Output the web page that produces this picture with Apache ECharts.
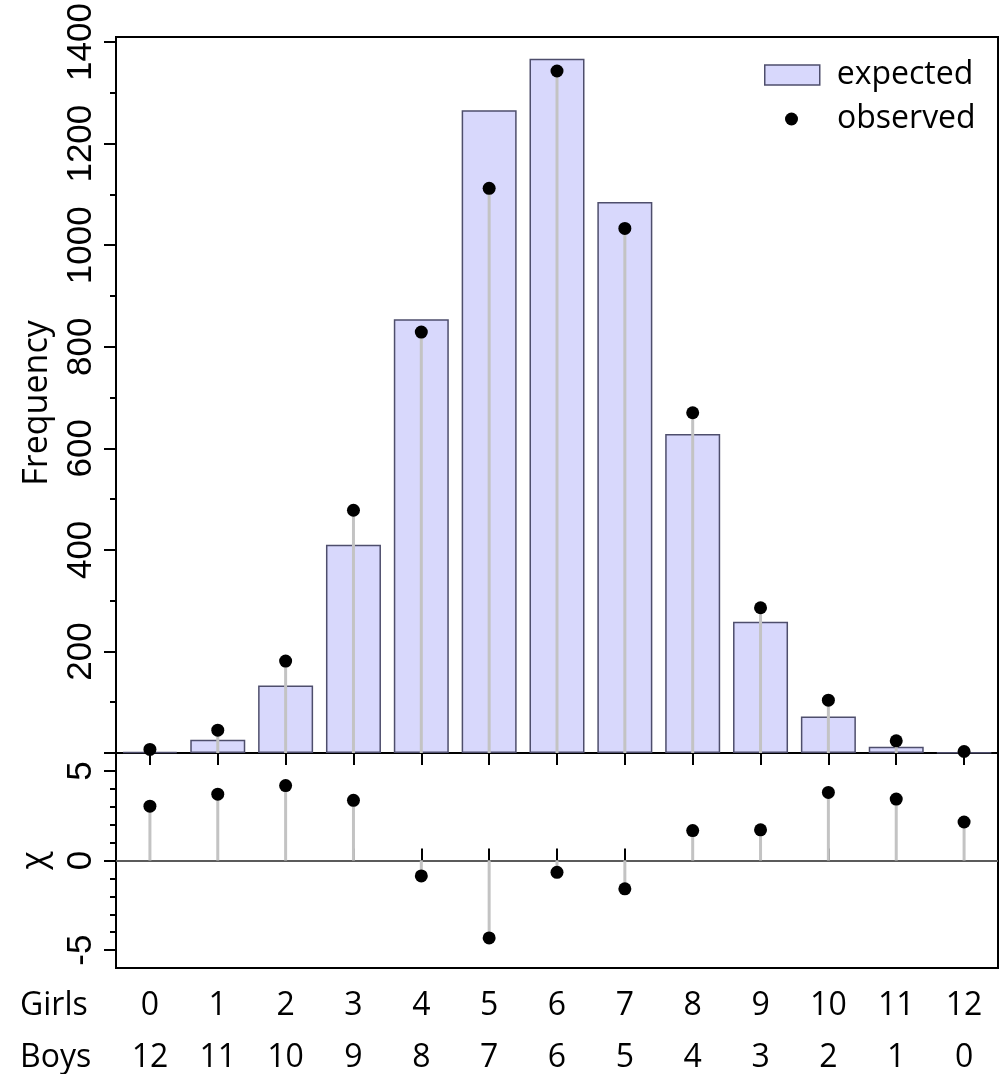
<!DOCTYPE html>
<html>
<head>
<meta charset="utf-8">
<script src="https://cdn.jsdelivr.net/npm/echarts@6/dist/echarts.min.js"></script>
<style>
  html, body { margin: 0; padding: 0; background: #fff; }
  #chart { width: 1000px; height: 1074px; }
</style>
</head>
<body>
<div id="chart"></div>
<script>
// ---- data ----
const girls = ['0','1','2','3','4','5','6','7','8','9','10','11','12'];
const boys  = ['12','11','10','9','8','7','6','5','4','3','2','1','0'];
const expected = [2.35, 26.08, 132.84, 410.01, 854.25, 1265.63, 1367.28, 1085.21, 628.06, 258.48, 71.80, 12.09, 0.93];
const observed = [7, 45, 181, 478, 829, 1112, 1343, 1033, 670, 286, 104, 24, 3];
const chi = [3.03, 3.70, 4.18, 3.36, -0.86, -4.32, -0.66, -1.58, 1.67, 1.71, 3.80, 3.43, 2.15];
const freqMajorTicks = [0, 200, 400, 600, 800, 1000, 1200, 1400];
const freqLabels = [200, 400, 600, 800, 1000, 1200, 1400];
const freqMinorTicks = [100, 300, 500, 700, 900, 1100, 1300];
const chiMajorTicks = [-5, 0, 5];
const chiMinorTicks = [-4, -3, -2, -1, 1, 2, 3, 4];

const LABEL_FONT = 'Open Sans';
const TICK_FONT = 'Liberation Sans';

const chart = echarts.init(document.getElementById('chart'), null, { renderer: 'canvas' });

function stem(params, api) {
  const x = api.value(0), y = api.value(1);
  const p0 = api.coord([x, 0]);
  const p1 = api.coord([x, y]);
  return {
    type: 'line',
    shape: { x1: p0[0], y1: p0[1], x2: p1[0], y2: p1[1] },
    style: { stroke: '#c3c3c3', lineWidth: 3 }
  };
}

const tickStyle = { color: '#000', width: 2 };
const axisLineStyle = { show: true, lineStyle: { color: '#000', width: 2 } };
const plainNum = v => String(v);

const option = {
  animation: false,
  backgroundColor: '#fff',
  grid: [
    { left: 116, top: 37, width: 882, height: 716, show: true, borderColor: '#000', borderWidth: 2, backgroundColor: 'transparent' },
    { left: 116, top: 753, width: 882, height: 216, show: true, borderColor: '#000', borderWidth: 2, backgroundColor: 'transparent' }
  ],
  legend: [
    {
      data: [{ name: 'expected', icon: 'rect' }], left: 764, top: 59, padding: 0,
      itemWidth: 55, itemHeight: 20,
      itemStyle: { borderColor: '#4e4e6c', borderWidth: 1.5 },
      textStyle: { fontSize: 32, fontFamily: LABEL_FONT, color: '#000', padding: [0, 0, 0, 12] }
    },
    {
      data: ['observed'], left: 785, top: 103, padding: 0,
      itemWidth: 13, itemHeight: 13, icon: 'circle',
      textStyle: { fontSize: 32, fontFamily: LABEL_FONT, color: '#000', padding: [0, 0, 0, 34] }
    }
  ],
  xAxis: [
    {
      gridIndex: 0, type: 'category', data: girls, boundaryGap: true,
      axisLine: axisLineStyle,
      axisTick: { show: true, alignWithLabel: true, length: 12, lineStyle: tickStyle },
      axisLabel: { show: false }, splitLine: { show: false }
    },
    {
      gridIndex: 1, type: 'category', data: girls, boundaryGap: true, position: 'bottom',
      axisLine: axisLineStyle,
      axisTick: { show: true, inside: true, alignWithLabel: true, length: 12, lineStyle: tickStyle },
      axisLabel: { margin: 22, fontSize: 32, fontFamily: LABEL_FONT, color: '#000' },
      splitLine: { show: false }
    },
    {
      gridIndex: 1, type: 'category', data: boys, boundaryGap: true, position: 'bottom', offset: 52,
      axisLine: { show: false }, axisTick: { show: false },
      axisLabel: { margin: 22, fontSize: 32, fontFamily: LABEL_FONT, color: '#000' },
      splitLine: { show: false }
    }
  ],
  yAxis: [
    {
      gridIndex: 0, type: 'value', position: 'left', min: 0, max: 1410,
      axisLine: axisLineStyle,
      axisTick: { show: true, length: 12, customValues: freqMajorTicks, lineStyle: tickStyle },
      axisLabel: { customValues: freqLabels, formatter: plainNum, rotate: 90, margin: 17, fontSize: 35, fontFamily: TICK_FONT, color: '#000' },
      splitLine: { show: false },
      name: 'Frequency', nameLocation: 'middle', nameRotate: 90, nameGap: 62,
      nameTextStyle: { fontSize: 34, fontFamily: LABEL_FONT, color: '#000', padding: [0, 16, 0, 0] }
    },
    {
      gridIndex: 0, type: 'value', position: 'left', min: 0, max: 1410,
      axisLine: { show: false },
      axisTick: { show: true, length: 6, customValues: freqMinorTicks, lineStyle: tickStyle },
      axisLabel: { show: false }, splitLine: { show: false }
    },
    {
      gridIndex: 1, type: 'value', position: 'left', min: -6, max: 6,
      axisLine: axisLineStyle,
      axisTick: { show: true, length: 12, customValues: chiMajorTicks, lineStyle: tickStyle },
      axisLabel: { customValues: chiMajorTicks, formatter: plainNum, rotate: 90, margin: 17, fontSize: 35, fontFamily: TICK_FONT, color: '#000' },
      splitLine: { show: false },
      name: 'χ', nameLocation: 'middle', nameRotate: 90, nameGap: 64,
      nameTextStyle: { fontSize: 34, fontFamily: LABEL_FONT, color: '#000' }
    },
    {
      gridIndex: 1, type: 'value', position: 'left', min: -6, max: 6,
      axisLine: { show: false },
      axisTick: { show: true, length: 6, customValues: chiMinorTicks, lineStyle: tickStyle },
      axisLabel: { show: false }, splitLine: { show: false }
    }
  ],
  series: [
    {
      name: 'expected', type: 'bar', xAxisIndex: 0, yAxisIndex: 0,
      data: expected, barWidth: 55,
      itemStyle: { color: '#d8d8fc', borderColor: '#4e4e6c', borderWidth: 1.5 },
      z: 2
    },
    {
      name: 'stemsTop', type: 'custom', xAxisIndex: 0, yAxisIndex: 0,
      data: observed.map((v, i) => [i, v]), renderItem: stem, z: 3, silent: true
    },
    {
      name: 'observed', type: 'scatter', xAxisIndex: 0, yAxisIndex: 0,
      data: observed, symbol: 'circle', symbolSize: 13,
      itemStyle: { color: '#000', opacity: 1 }, z: 4
    },
    {
      name: 'stemsBottom', type: 'custom', xAxisIndex: 1, yAxisIndex: 2,
      data: chi.map((v, i) => [i, v]), renderItem: stem, z: 3, silent: true
    },
    {
      name: 'chi', type: 'scatter', xAxisIndex: 1, yAxisIndex: 2,
      data: chi, symbol: 'circle', symbolSize: 13,
      itemStyle: { color: '#000', opacity: 1 }, z: 4,
      markLine: {
        silent: true, symbol: ['none', 'none'], label: { show: false },
        lineStyle: { color: '#7a7a7a', width: 1.5, type: 'solid' },
        data: [{ yAxis: 0 }], z: 2
      }
    }
  ],
  graphic: [
    { type: 'text', left: 20, top: 990, style: { text: 'Girls', fontSize: 32, fontFamily: LABEL_FONT, fill: '#000' } },
    { type: 'text', left: 20, top: 1042, style: { text: 'Boys', fontSize: 32, fontFamily: LABEL_FONT, fill: '#000' } }
  ]
};

chart.setOption(option);
</script>
</body>
</html>
